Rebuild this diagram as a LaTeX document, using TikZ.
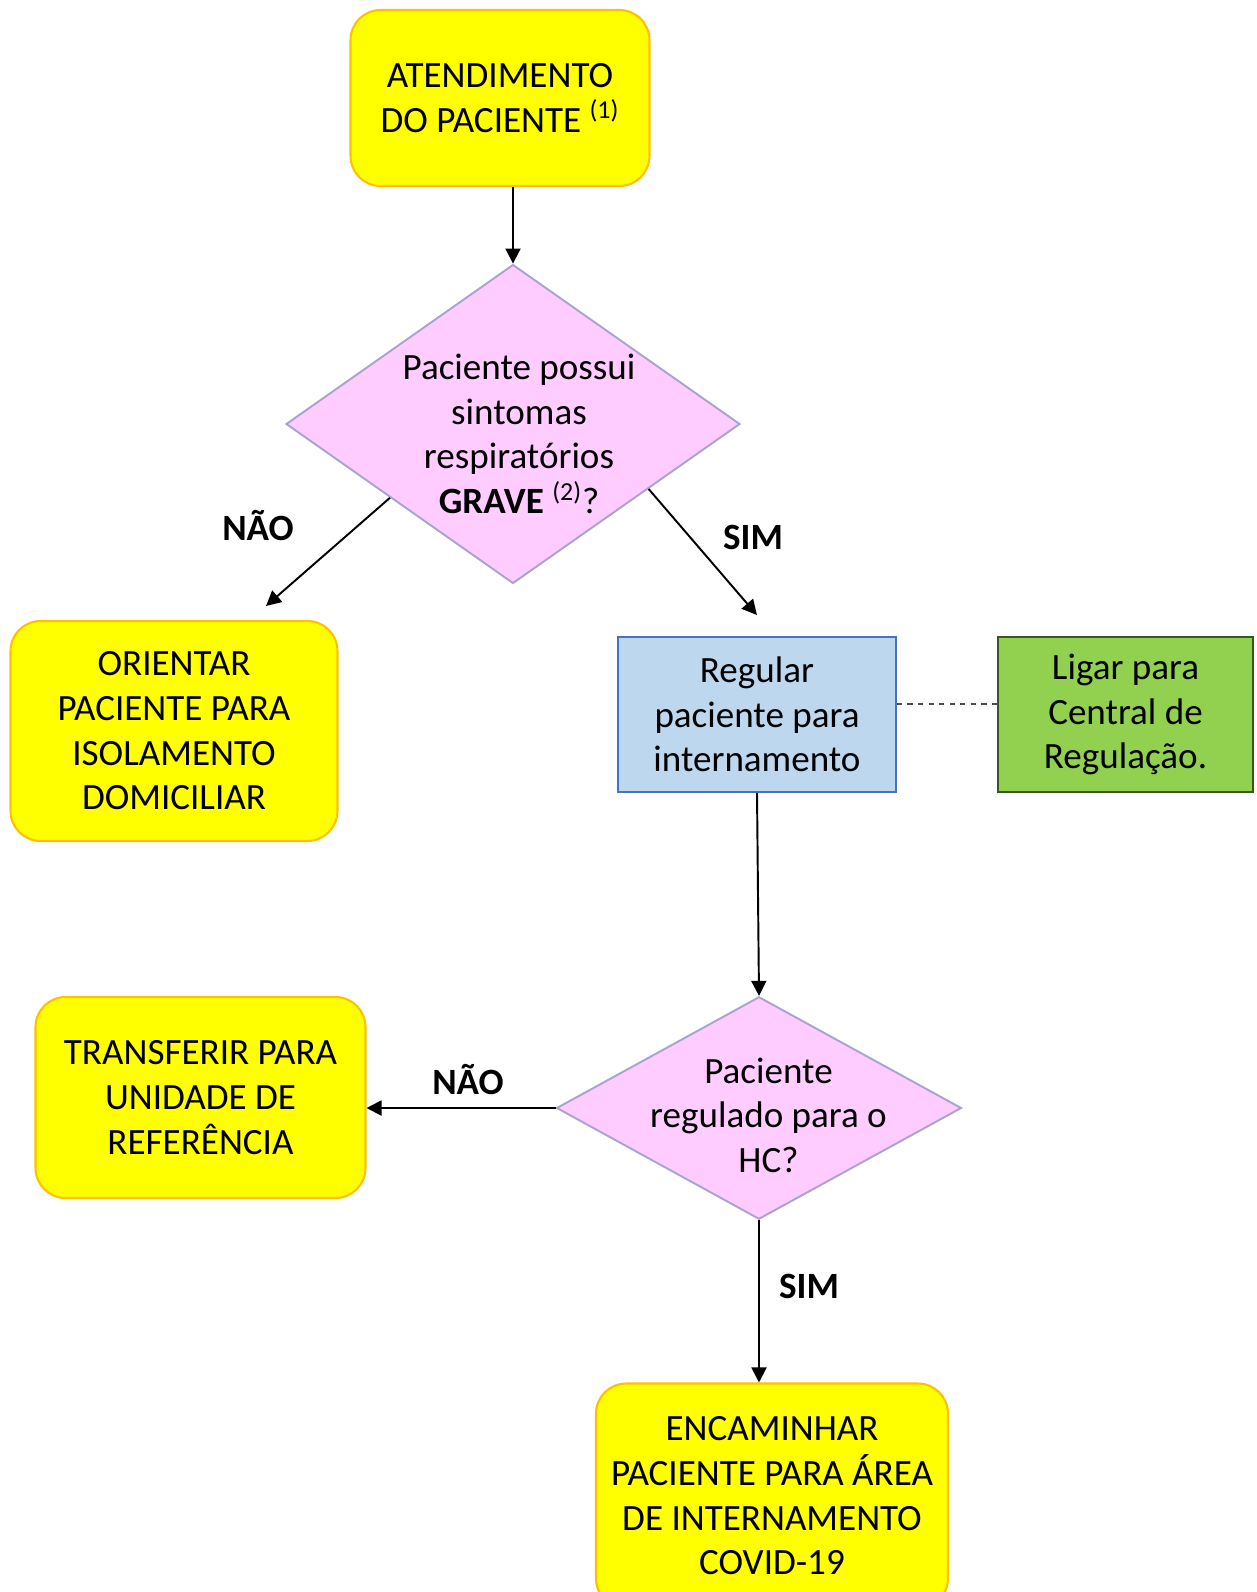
\documentclass[tikz,border=0pt]{standalone}
\usepackage{fontspec}
\setmainfont{Carlito}
\usepackage{tikz}
\usetikzlibrary{shapes.geometric, arrows.meta, calc}

\definecolor{amarelo}{RGB}{255,255,0}
\definecolor{laranja}{RGB}{255,192,0}
\definecolor{rosa}{RGB}{255,204,255}
\definecolor{lilas}{RGB}{169,163,209}
\definecolor{azulclaro}{RGB}{189,215,238}
\definecolor{azulesc}{RGB}{68,114,196}
\definecolor{verde}{RGB}{146,208,80}
\definecolor{verdeesc}{RGB}{56,87,35}

\newcommand\fluxofont{\fontsize{21.1pt}{25.4pt}\selectfont}

\begin{document}
\begin{tikzpicture}[x=0.02cm, y=-0.02cm, >={Triangle[length=3mm, width=3mm]},
    acao/.style={draw=laranja, fill=amarelo, line width=1.2pt, rounded corners=0.6cm,
      align=center, inner sep=2pt, font=\fluxofont},
    caixa/.style={draw=#1, line width=1.1pt, align=center, inner sep=2pt, font=\fluxofont,
      minimum width=5.56cm, minimum height=3.1cm},
    decisao/.style={draw=lilas, fill=rosa, line width=1.1pt, diamond, inner sep=0pt},
    resp/.style={font=\fluxofont\bfseries},
    seta/.style={->, line width=1.1pt}]

    \useasboundingbox (0,0) rectangle (1257,1592);

    \node[acao, minimum width=5.98cm, minimum height=3.52cm] (atend) at (500,98)
        {ATENDIMENTO\\DO PACIENTE \textsuperscript{(1)}};

    \node[decisao, minimum width=9.08cm, minimum height=6.38cm] (grave) at (513,424) {};
    \node[align=center, font=\fluxofont] (gravetxt) at (519,434)
        {Paciente possui\\sintomas\\respiratórios\\\textbf{GRAVE} \textsuperscript{(2)}?};

    \node[acao, minimum width=6.54cm, minimum height=4.4cm] (orient) at (174,731)
        {ORIENTAR\\PACIENTE PARA\\ISOLAMENTO\\DOMICILIAR};

    \node[caixa=azulesc, fill=azulclaro] (regular) at (757,714.5)
        {Regular\\paciente para\\internamento};
    \node[caixa=verdeesc, fill=verde, minimum width=5.1cm] (ligar) at (1125.5,714.5)
        {Ligar para\\Central de\\Regulação.};

    \node[decisao, minimum width=8.1cm, minimum height=4.45cm] (hc) at (759,1108) {};
    \node[align=center, font=\fluxofont] (hctxt) at (768.5,1115)
        {Paciente\\regulado para o\\HC?};

    \node[acao, minimum width=6.6cm, minimum height=4.02cm] (transf) at (200.5,1097.5)
        {TRANSFERIR PARA\\UNIDADE DE\\REFERÊNCIA};

    \node[acao, minimum width=7.04cm, minimum height=4.5cm] (encam) at (772,1496)
        {ENCAMINHAR\\PACIENTE PARA ÁREA\\DE INTERNAMENTO\\COVID-19};

    % respostas
    \node[resp] (nao1) at (258,526) {NÃO};
    \node[resp] (sim1) at (753,537) {SIM};
    \node[resp] (nao2) at (468,1080) {NÃO};
    \node[resp] (sim2) at (809,1286) {SIM};

    \coordinate (pontaorient) at (266,606);

    \draw[seta] (atend.south -| grave.north) -- (grave.north);
    \draw[seta] ($(grave.west)!0.46!(grave.south)$) -- (pontaorient);
    \draw[seta] ($(grave.east)!0.405!(grave.south)$) -- ([yshift=0.42cm]regular.north);
    \draw[dashed, draw=black!70, line width=0.8pt] ([yshift=0.21cm]regular.east) -- ([yshift=0.21cm]ligar.west);
    \draw[seta] (regular.south) -- (hc.north);
    \draw[seta] (hc.west) -- (transf.east |- hc.west);
    \draw[seta] (hc.south) -- (hc.south |- encam.north);

\end{tikzpicture}
\end{document}
